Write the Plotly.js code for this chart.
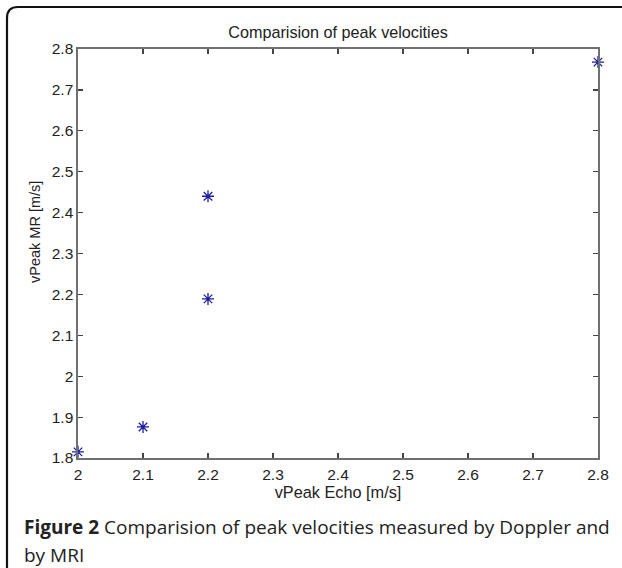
<!DOCTYPE html>
<html>
<head>
<meta charset="utf-8">
<script src="https://cdn.plot.ly/plotly-3.0.1.min.js"></script>
<style>
html,body{margin:0;padding:0;background:#fff;}
#chart{width:622px;height:568px;}
</style>
</head>
<body>
<div id="chart"></div>
<script>
// Data
const echoPeak = [2.0, 2.1, 2.2, 2.2, 2.8];
const mrPeak = [1.815, 1.876, 2.189, 2.44, 2.768];
const xTicks = [2, 2.1, 2.2, 2.3, 2.4, 2.5, 2.6, 2.7, 2.8];
const yTicks = [1.8, 1.9, 2, 2.1, 2.2, 2.3, 2.4, 2.5, 2.6, 2.7, 2.8];
const chartTitle = 'Comparision of peak velocities';
const xTitle = 'vPeak Echo [m/s]';
const yTitle = 'vPeak MR [m/s]';
const captionLine1 = '<b>Figure 2</b> Comparision of peak velocities measured by Doppler and';
const captionLine2 = 'by MRI';

const W = 622, H = 568;
const M = {l: 78, r: 24, t: 49, b: 110};
const pw = W - M.l - M.r, ph = H - M.t - M.b;
const px = v => (v - M.l) / pw;
const py = v => (H - M.b - v) / ph;
const FONT = 'Liberation Sans, Arial, sans-serif';

const axisCommon = {
  showgrid: false, zeroline: false, showline: true, mirror: 'ticks',
  linecolor: '#707070', linewidth: 1.6, ticks: 'inside', ticklen: 5,
  tickcolor: '#444', tickwidth: 1.2,
  tickfont: {family: FONT, size: 15.5, color: '#222'}
};

const trace = {
  x: echoPeak, y: mrPeak, type: 'scatter', mode: 'markers',
  marker: {symbol: 'asterisk-open', size: 10, color: '#1c1ca0', line: {color: '#1c1ca0', width: 1.3}},
  cliponaxis: false, hoverinfo: 'x+y'
};

const framePath = `M ${px(7)} ${py(580)} L ${px(7)} ${py(18)} Q ${px(7)} ${py(7)} ${px(18)} ${py(7)} L ${px(640)} ${py(7)}`;

const layout = {
  width: W, height: H,
  margin: M,
  paper_bgcolor: '#fff', plot_bgcolor: '#fff',
  showlegend: false,
  title: {text: chartTitle, x: (M.l + pw / 2) / W, xanchor: 'center', y: 1 - 32 / H, yanchor: 'middle',
          font: {family: FONT, size: 16.2, color: '#222'}},
  xaxis: Object.assign({}, axisCommon, {
    range: [2, 2.8], tickvals: xTicks, ticktext: xTicks.map(v => String(v)),
    ticklabelstandoff: 2,
    title: {text: xTitle, standoff: 3, font: {family: FONT, size: 16.3, color: '#222'}}
  }),
  yaxis: Object.assign({}, axisCommon, {
    range: [1.8, 2.8], tickvals: yTicks, ticktext: yTicks.map(v => String(v))
  }),
  shapes: [{
    type: 'path', xref: 'paper', yref: 'paper', path: framePath,
    line: {color: '#111', width: 2.2}
  }],
  annotations: [
    {text: yTitle, xref: 'paper', yref: 'paper', x: px(35), y: py(232), xanchor: 'center', yanchor: 'middle',
     textangle: -90, showarrow: false, font: {family: FONT, size: 14.5, color: '#222'}},
    {text: captionLine1, xref: 'paper', yref: 'paper', x: px(22), y: py(527), xanchor: 'left', yanchor: 'middle',
     showarrow: false, font: {family: 'Open Sans, Noto Sans, sans-serif', size: 19, color: '#222'}},
    {text: captionLine2, xref: 'paper', yref: 'paper', x: px(22), y: py(555), xanchor: 'left', yanchor: 'middle',
     showarrow: false, font: {family: 'Open Sans, Noto Sans, sans-serif', size: 19, color: '#222'}}
  ]
};

Plotly.newPlot('chart', [trace], layout, {displayModeBar: false, staticPlot: true});
</script>
</body>
</html>
